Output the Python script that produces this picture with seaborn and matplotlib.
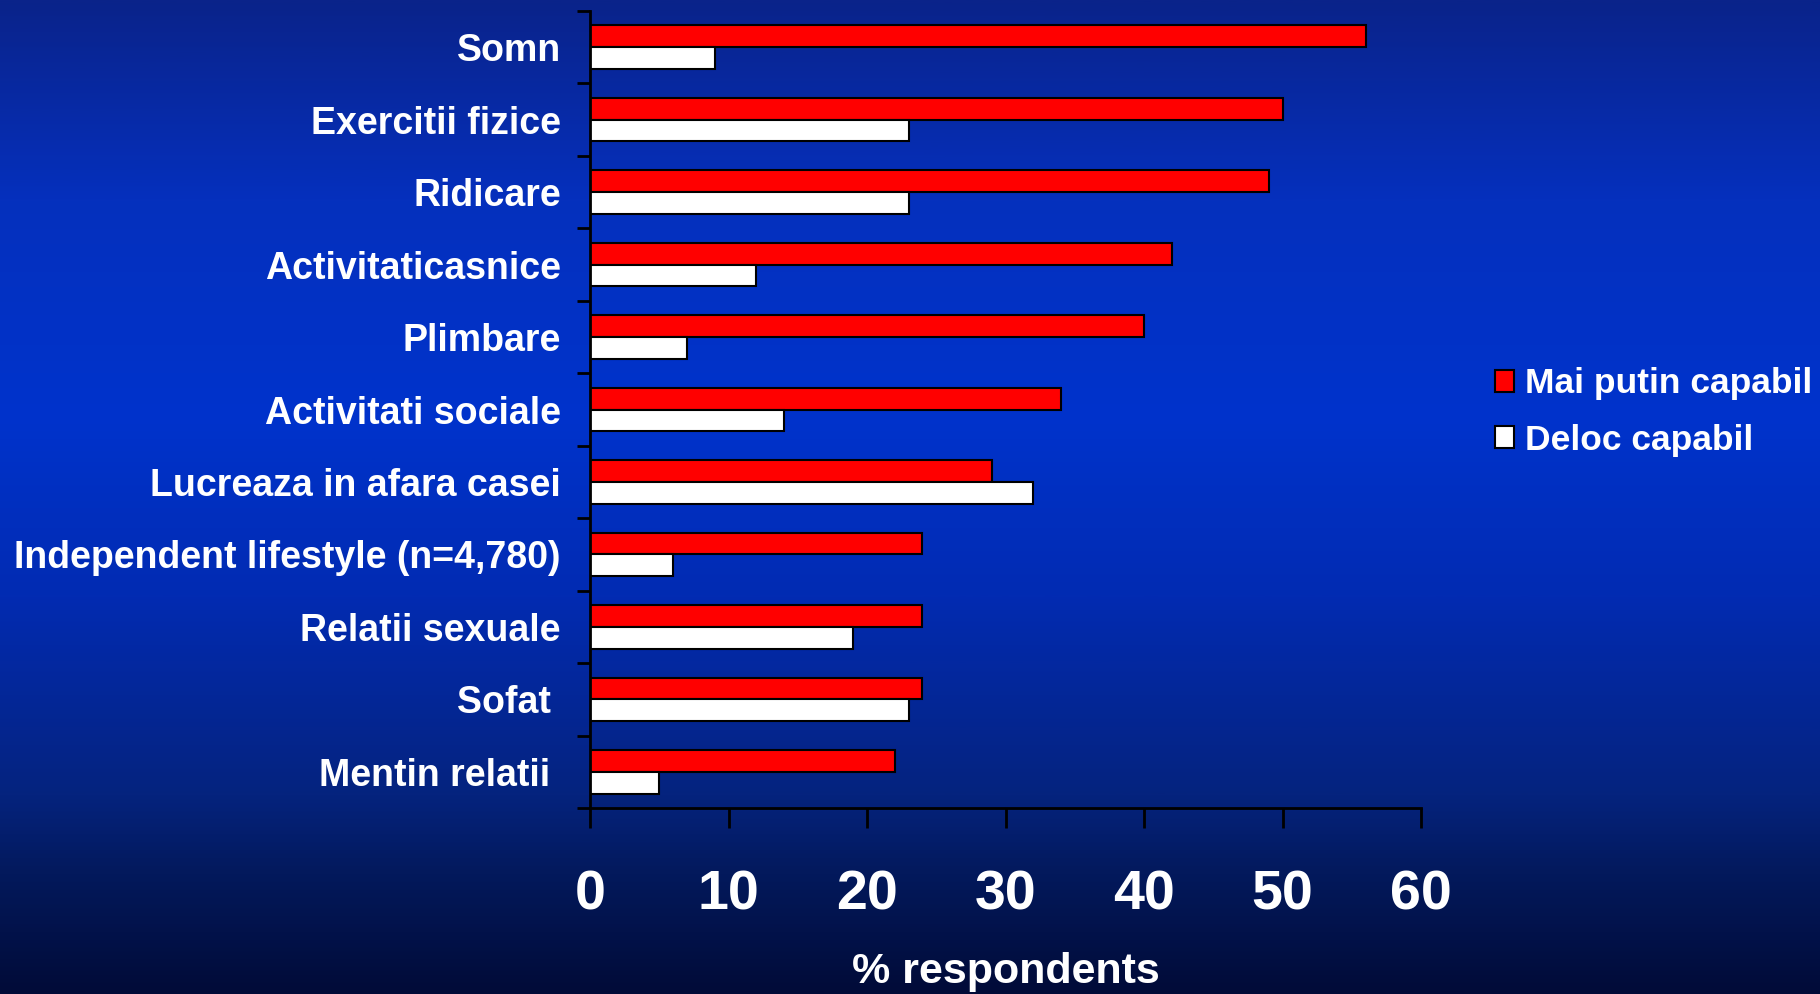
import numpy as np
import pandas as pd
import matplotlib
matplotlib.use("Agg")
import matplotlib.pyplot as plt
from matplotlib.colors import LinearSegmentedColormap
from matplotlib.ticker import FixedLocator, NullFormatter
import seaborn as sns

# ---- data ----
categories = ["Somn", "Exercitii fizice", "Ridicare", "Activitaticasnice", "Plimbare",
              "Activitati sociale", "Lucreaza in afara casei",
              "Independent lifestyle (n=4,780)", "Relatii sexuale", "Sofat ",
              "Mentin relatii "]
less_capable = [56, 50, 49, 42, 40, 34, 29, 24, 24, 24, 22]
not_capable = [9, 23, 23, 12, 7, 14, 32, 6, 19, 23, 5]
series_names = ["Mai putin capabil", "Deloc capabil"]
x_ticks = [0, 10, 20, 30, 40, 50, 60]
x_label = "% respondents"

df = pd.DataFrame({
    "cat": categories * 2,
    "val": less_capable + not_capable,
    "grp": [series_names[0]] * len(categories) + [series_names[1]] * len(categories),
})

sns.set_theme(style="white")
FONT = ["Liberation Sans", "DejaVu Sans"]
plt.rcParams["font.family"] = FONT
plt.rcParams["font.weight"] = "bold"

W, H = 1820, 994
fig = plt.figure(figsize=(W / 100, H / 100), dpi=100)

# background gradient
bg = fig.add_axes([0, 0, 1, 1])
cmap = LinearSegmentedColormap.from_list("bg", [
    (0.0, "#0a238a"), (0.2, "#0530bd"), (0.42, "#0033cc"), (0.6, "#022bb2"),
    (0.8, "#05237e"), (0.88, "#03195c"), (1.0, "#010b38")])
grad = np.linspace(0, 1, 512).reshape(-1, 1)
bg.imshow(grad, aspect="auto", cmap=cmap, extent=[0, 1, 1, 0])
bg.set_axis_off()

ax = fig.add_axes([590 / W, 1 - 808 / H, (1421 - 590) / W, (808 - 11) / H])
ax.set_facecolor("none")

sns.barplot(data=df, y="cat", x="val", hue="grp", orient="h", ax=ax,
            order=categories, hue_order=series_names,
            palette=["#ff0000", "#ffffff"], width=0.6,
            edgecolor="black", linewidth=1.5, saturation=1)

ax.set_xlim(0, 60)
ax.set_ylim(len(categories) - 0.5, -0.5)
ax.set_xticks(x_ticks)
ax.set_xticklabels([str(t) for t in x_ticks])

# y: boundary ticks (major, unlabeled) + labels at centers (minor)
ax.yaxis.set_major_locator(FixedLocator(np.arange(-0.5, len(categories), 1.0)))
ax.yaxis.set_major_formatter(NullFormatter())
ax.yaxis.set_minor_locator(FixedLocator(np.arange(len(categories))))
ax.set_yticklabels(categories, minor=True)
ax.tick_params(axis="y", which="major", direction="out", length=9.5, width=2,
               color="black", left=True)
ax.tick_params(axis="y", which="minor", length=0, pad=21, labelsize=27,
               labelcolor="white")
ax.tick_params(axis="x", which="major", direction="out", length=14.5, width=2,
               color="black", bottom=True, pad=30, labelsize=40, labelcolor="white")
for lab in ax.get_yticklabels(minor=True) + ax.get_xticklabels():
    lab.set_fontweight("bold")

for s in ["top", "right"]:
    ax.spines[s].set_visible(False)
for s in ["left", "bottom"]:
    ax.spines[s].set_color("black")
    ax.spines[s].set_linewidth(2)

ax.set_ylabel("")
ax.set_xlabel(x_label, fontsize=31, fontweight="bold", color="white", labelpad=22)
ax.grid(False)

sns.move_legend(ax, "center left", bbox_to_anchor=(1495 / W, 1 - 412 / H),
                bbox_transform=fig.transFigure, frameon=False, title=None,
                fontsize=25.5, handlelength=0.55, handleheight=0.55,
                handletextpad=0.3, labelspacing=0.65, borderpad=0,
                borderaxespad=0)
leg = ax.get_legend()
for t in leg.get_texts():
    t.set_color("white")
    t.set_fontweight("bold")
for h in leg.legend_handles:
    h.set_edgecolor("black")
    h.set_linewidth(1.5)

fig.savefig("out.png", dpi=100)
